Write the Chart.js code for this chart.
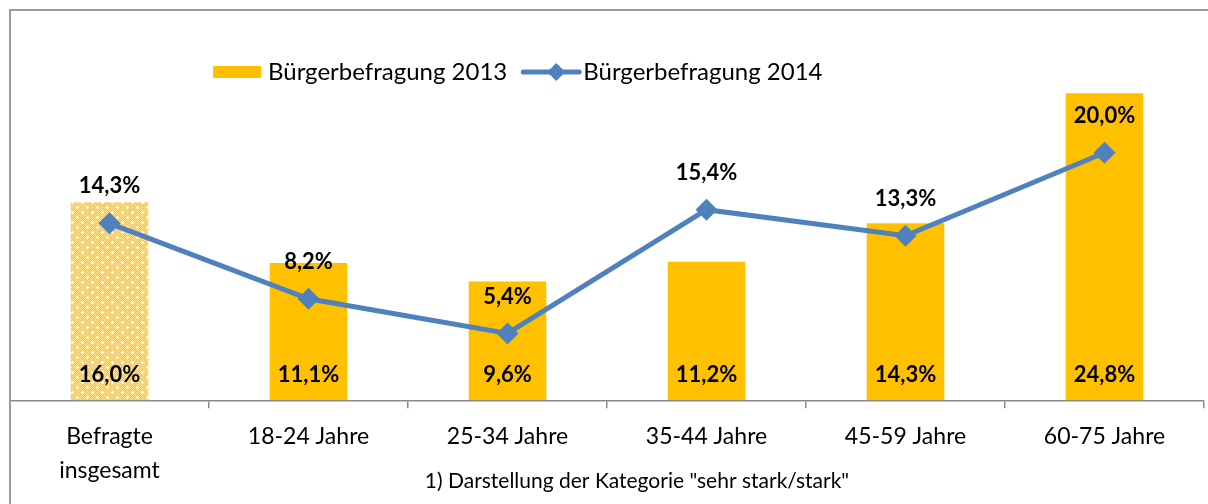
<!DOCTYPE html>
<html lang="de">
<head>
<meta charset="utf-8">
<title>Bürgerbefragung 2013 / 2014</title>
<script src="https://cdn.jsdelivr.net/npm/chart.js@4.4.1/dist/chart.umd.min.js"></script>
<style>
  html, body { margin: 0; padding: 0; background: #fff; }
  #wrap { width: 1208px; height: 504px; }
</style>
</head>
<body>
<div id="wrap"><canvas id="chart" width="1208" height="504"></canvas></div>
<script>
// values
const categories = [['Befragte', 'insgesamt'], '18-24 Jahre', '25-34 Jahre', '35-44 Jahre', '45-59 Jahre', '60-75 Jahre'];
const values2013 = [16.0, 11.1, 9.6, 11.2, 14.3, 24.8];
const values2014 = [14.3, 8.2, 5.4, 15.4, 13.3, 20.0];
const seriesNames = ['Bürgerbefragung 2013', 'Bürgerbefragung 2014'];
const footnote = '1) Darstellung der Kategorie "sehr stark/stark"';

const FONT = "Lato, 'Open Sans', sans-serif";
const BAR_COLOR = '#FFC000';
const LINE_COLOR = '#4F81BD';
const AXIS_COLOR = '#898989';

function fmt(v) {
  return v.toFixed(1).replace('.', ',') + '%';
}

// dotted fill for the "Befragte insgesamt" bar
function makePattern() {
  const c = document.createElement('canvas');
  c.width = 10; c.height = 10;
  const p = c.getContext('2d');
  for (let y = 0; y < 10; y++) {
    for (let x = 0; x < 10; x++) {
      p.fillStyle = (x + y) % 2 ? '#FFC633' : '#FFE08A';
      p.fillRect(x, y, 1, 1);
    }
  }
  p.fillStyle = '#FFFFFF';
  [[2, 2], [7, 7]].forEach(([cx, cy]) => {
    p.fillRect(cx - 1, cy, 3, 1);
    p.fillRect(cx, cy - 1, 1, 3);
  });
  return p.createPattern(c, 'repeat');
}

const barPattern = makePattern();
const barColors = values2013.map((v, i) => i === 0 ? barPattern : BAR_COLOR);

// value labels, legend, footnote and frame
const extrasPlugin = {
  id: 'extras',
  afterDatasetsDraw(chart) {
    const ctx = chart.ctx;
    const base = chart.scales.y.getPixelForValue(0);
    ctx.save();
    ctx.font = "bold 22px " + FONT;
    ctx.fillStyle = '#000';
    ctx.textAlign = 'center';
    ctx.textBaseline = 'middle';
    chart.getDatasetMeta(0).data.forEach((el, i) => {
      ctx.fillText(fmt(values2013[i]), el.x, base - 25);
    });
    chart.getDatasetMeta(1).data.forEach((el, i) => {
      ctx.fillText(fmt(values2014[i]), el.x, el.y - 37);
    });
    ctx.restore();
  },
  afterDraw(chart) {
    const ctx = chart.ctx;
    ctx.save();

    // legend
    ctx.font = "24px " + FONT;
    ctx.textBaseline = 'middle';
    ctx.textAlign = 'left';
    let x = 213;
    const ly = 72;
    ctx.fillStyle = BAR_COLOR;
    ctx.fillRect(x, ly - 6, 48, 12);
    x += 55;
    ctx.fillStyle = '#000';
    ctx.fillText(seriesNames[0], x, ly);
    x += ctx.measureText(seriesNames[0]).width + 16;
    ctx.strokeStyle = LINE_COLOR;
    ctx.lineWidth = 5;
    ctx.lineCap = 'round';
    ctx.beginPath();
    ctx.moveTo(x, ly);
    ctx.lineTo(x + 56, ly);
    ctx.stroke();
    ctx.fillStyle = LINE_COLOR;
    ctx.beginPath();
    ctx.moveTo(x + 33, ly - 9);
    ctx.lineTo(x + 42, ly);
    ctx.lineTo(x + 33, ly + 9);
    ctx.lineTo(x + 24, ly);
    ctx.closePath();
    ctx.fill();
    x += 60;
    ctx.fillStyle = '#000';
    ctx.fillText(seriesNames[1], x, ly);

    // footnote
    ctx.font = "21px " + FONT;
    ctx.textAlign = 'center';
    ctx.fillText(footnote, 637, 481);

    // frame
    ctx.strokeStyle = '#9a9a9a';
    ctx.lineWidth = 2;
    ctx.strokeRect(10, 10, 1400, 700);
    ctx.restore();
  }
};

new Chart(document.getElementById('chart'), {
  type: 'bar',
  data: {
    labels: categories,
    datasets: [
      {
        type: 'bar',
        label: seriesNames[0],
        data: values2013,
        backgroundColor: barColors,
        borderWidth: 0,
        barPercentage: 0.39,
        categoryPercentage: 1,
        order: 2
      },
      {
        type: 'line',
        label: seriesNames[1],
        data: values2014,
        borderColor: LINE_COLOR,
        backgroundColor: LINE_COLOR,
        borderWidth: 5,
        pointStyle: 'rectRot',
        pointRadius: 11,
        pointBackgroundColor: LINE_COLOR,
        pointBorderWidth: 0,
        tension: 0,
        fill: false,
        order: 1
      }
    ]
  },
  options: {
    responsive: false,
    animation: false,
    layout: { autoPadding: false, padding: { left: 10, right: 4, top: 29, bottom: 5 } },
    plugins: {
      legend: { display: false },
      tooltip: { enabled: false }
    },
    scales: {
      x: {
        offset: true,
        grid: {
          offset: true,
          drawOnChartArea: false,
          drawTicks: true,
          tickLength: 8,
          color: AXIS_COLOR,
          lineWidth: 1.5
        },
        border: { display: true, color: AXIS_COLOR, width: 1.5 },
        ticks: {
          color: '#000',
          font: { family: FONT, size: 23, lineHeight: 1.45 },
          padding: 12,
          maxRotation: 0,
          autoSkip: false
        }
      },
      y: {
        display: false,
        min: 0,
        max: 30
      }
    }
  },
  plugins: [extrasPlugin]
});
</script>
</body>
</html>
